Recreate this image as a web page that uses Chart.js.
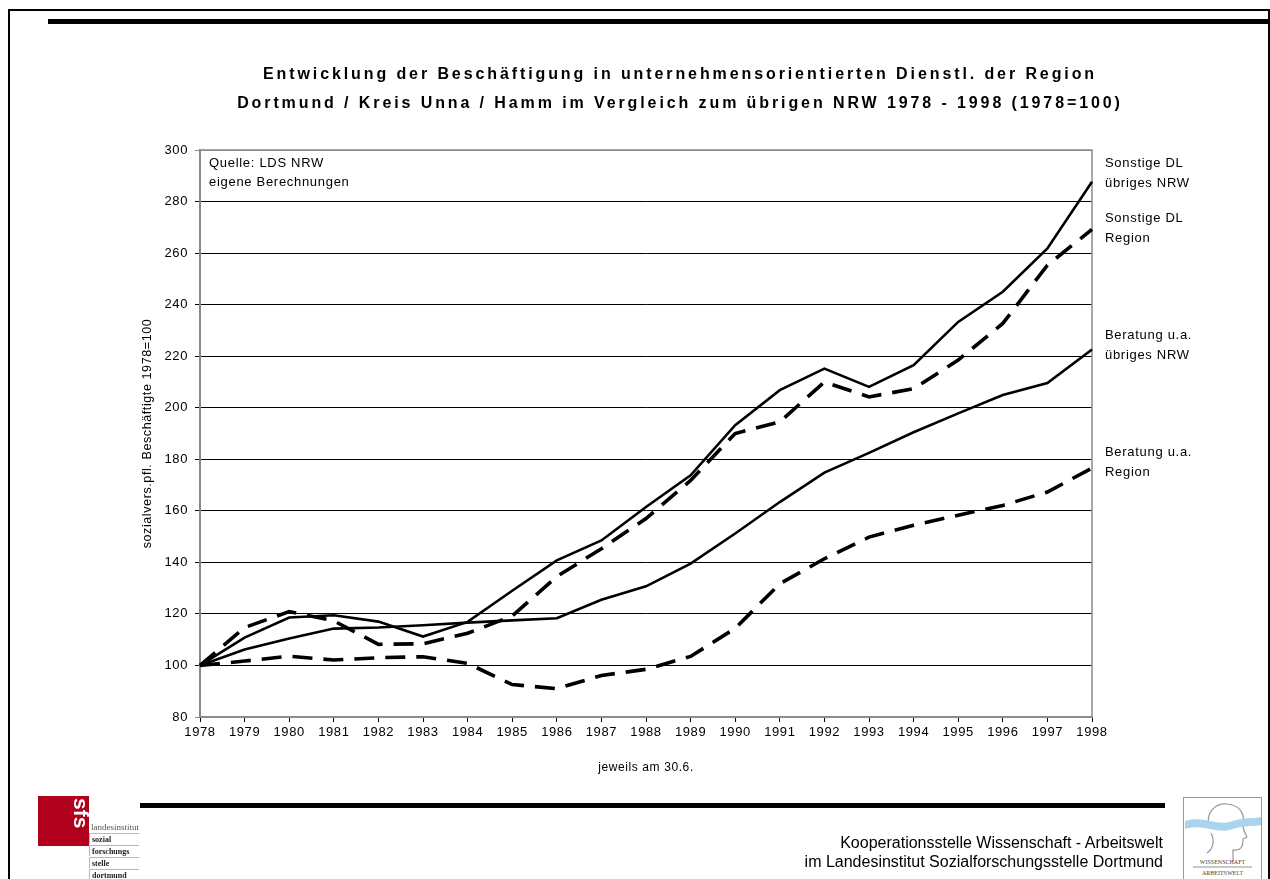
<!DOCTYPE html>
<html>
<head>
<meta charset="utf-8">
<script src="https://cdn.jsdelivr.net/npm/chart.js@4.4.1/dist/chart.umd.min.js"></script>
<style>
  body { margin: 0; background: #fff; font-family: "Liberation Sans", Arial, sans-serif; }
  #page { position: relative; width: 1270px; height: 879px; overflow: hidden; background: #fff; }
  #chart { position: absolute; left: 0; top: 0; }
  .abs { position: absolute; white-space: nowrap; }
  .title { left: 180px; width: 1000px; text-align: center; font-weight: bold; font-size: 16px; letter-spacing: 2.9px; line-height: 29px; }
  .lbl { font-size: 13px; letter-spacing: 0.7px; line-height: 20px; color: #000; }
  .foot { right: 107px; text-align: right; font-size: 16px; line-height: 19px; }
  .row { left: 89px; width: 50px; height: 11px; border-top: 1px solid #e5a3ab; border-left: 1px solid #e5a3ab;
         font: bold 8px "Liberation Serif", serif; line-height: 11px; padding-left: 2px; box-sizing: border-box; color: #222; }
</style>
</head>
<body>
<div id="page">
  <!-- frame -->
  <div class="abs" style="left:8px;top:9px;width:1258px;height:900px;border:2px solid #000;"></div>
  <div class="abs" style="left:48px;top:19px;width:1222px;height:5px;background:#000;"></div>

  <canvas id="chart" width="1270" height="879"></canvas>

  <div class="abs title" style="top:59px;">Entwicklung der Beschäftigung in unternehmensorientierten Dienstl. der Region<br>Dortmund / Kreis Unna / Hamm im Vergleich zum übrigen NRW 1978 - 1998 (1978=100)</div>

  <div class="abs lbl" style="left:209px;top:153px;line-height:19px;">Quelle: LDS NRW<br>eigene Berechnungen</div>

  <div class="abs lbl" style="left:1105px;top:153px;">Sonstige DL<br>übriges NRW</div>
  <div class="abs lbl" style="left:1105px;top:208px;">Sonstige DL<br>Region</div>
  <div class="abs lbl" style="left:1105px;top:325px;">Beratung u.a.<br>übriges NRW</div>
  <div class="abs lbl" style="left:1105px;top:442px;">Beratung u.a.<br>Region</div>

  <!-- footer -->
  <div class="abs" style="left:140px;top:803px;width:1025px;height:5px;background:#000;"></div>
  <div class="abs foot" style="top:833px;">Kooperationsstelle Wissenschaft - Arbeitswelt<br>im Landesinstitut Sozialforschungsstelle Dortmund</div>

  <!-- sfs logo -->
  <div class="abs" style="left:38px;top:796px;width:51px;height:50px;background:#b1001c;"></div>
  <div class="abs" style="left:72px;top:798px;color:#fff;font:bold 21px 'Liberation Sans',sans-serif;writing-mode:vertical-rl;line-height:18px;">sfs</div>
  <div class="abs" style="left:91px;top:822px;font:9px 'Liberation Serif',serif;color:#555;">landesinstitut</div>
  <div class="abs row" style="top:833px;">sozial</div>
  <div class="abs row" style="top:845px;">forschungs</div>
  <div class="abs row" style="top:857px;">stelle</div>
  <div class="abs row" style="top:869px;">dortmund</div>

  <!-- Wissenschaft Arbeitswelt logo -->
  <svg class="abs" style="left:1183px;top:797px;" width="80" height="84">
    <rect x="0.5" y="0.5" width="78" height="90" fill="#fff" stroke="#999"/>
    <path d="M26 30 C22 14 34 6 44 7 C56 8 62 16 60 26 C59 31 62 36 64 40 L60 42 C60 50 58 54 50 53 L50 64" fill="none" stroke="#9a9a9a" stroke-width="1.2"/>
    <path d="M28 36 C32 44 30 52 24 56" fill="none" stroke="#9a9a9a" stroke-width="1.2"/>
    <path d="M2 24 C20 18 34 30 50 24 C62 20 70 22 78 20 L78 28 C68 30 62 28 50 32 C34 38 20 26 2 32 Z" fill="#a9d4ec"/>
    <text x="39.5" y="67" font-size="6" text-anchor="middle" font-family="Liberation Serif" fill="#444">WISSENSCHAFT</text>
    <line x1="10" y1="70" x2="69" y2="70" stroke="#777" stroke-width="0.8"/>
    <text x="39.5" y="78" font-size="6" text-anchor="middle" font-family="Liberation Serif" fill="#444">ARBEITSWELT</text>
  </svg>
</div>

<script>
// ---------- data ----------
const years = ['1978', '1979', '1980', '1981', '1982', '1983', '1984', '1985', '1986', '1987', '1988',
  '1989', '1990', '1991', '1992', '1993', '1994', '1995', '1996', '1997', '1998'];

const sonstigeNRW    = [100, 110.8, 118.6, 119.5, 117, 111.2, 116.9, 129, 140.8, 148.5, 161.5,
  173.8, 193.2, 206.8, 215.2, 208.1, 216.5, 233.3, 245, 261.8, 287.7];
const sonstigeRegion = [100, 114.7, 120.9, 117.3, 108.2, 108.4, 112.5, 119.2, 134.5, 145.3, 157,
  171.8, 190, 194.5, 210, 204.2, 207.4, 218.5, 232.7, 255.3, 269.2];
const beratungNRW    = [100, 106.2, 110.5, 114.3, 114.7, 115.6, 116.6, 117.5, 118.3, 125.5, 130.7,
  139.5, 151.2, 163.4, 174.8, 182.5, 190.5, 197.8, 204.9, 209.6, 222.6];
const beratungRegion = [100, 101.7, 103.6, 102.1, 103, 103.4, 100.8, 92.6, 91, 96.1, 98.5,
  103.5, 114.4, 131.7, 141.4, 149.8, 154.4, 158.3, 162.1, 167.3, 176.6];

const yMin = 80, yMax = 300, yStep = 20;

// ---------- chart ----------
const FONT = '"Liberation Sans", Arial, sans-serif';
const solid  = { borderColor: '#000', borderWidth: 2.6, pointRadius: 0, tension: 0, fill: false };
const dashed = { borderColor: '#000', borderWidth: 3.6, borderDash: [20, 11], pointRadius: 0, tension: 0, fill: false };

// gray box around the plot area, below the lines
const plotBox = {
  id: 'plotBox',
  beforeDraw(chart) { chart.ctx.letterSpacing = '0.6px'; },
  beforeDatasetsDraw(chart) {
    const { ctx, chartArea: a } = chart;
    ctx.save();
    ctx.strokeStyle = '#8c8c8c';
    ctx.lineWidth = 1.5;
    ctx.strokeRect(a.left, a.top, a.right - a.left, a.bottom - a.top);
    ctx.restore();
  }
};

new Chart(document.getElementById('chart'), {
  type: 'line',
  data: {
    labels: years,
    datasets: [
      { label: 'Sonstige DL übriges NRW', data: sonstigeNRW, ...solid },
      { label: 'Sonstige DL Region', data: sonstigeRegion, ...dashed },
      { label: 'Beratung u.a. übriges NRW', data: beratungNRW, ...solid },
      { label: 'Beratung u.a. Region', data: beratungRegion, ...dashed }
    ]
  },
  options: {
    responsive: false,
    animation: false,
    devicePixelRatio: 1,
    layout: { padding: { left: 140, top: 150, right: 178, bottom: 100 } },
    plugins: { legend: { display: false }, title: { display: false }, tooltip: { enabled: false } },
    scales: {
      x: {
        offset: false,
        afterFit: (s) => { s.height = 62; },
        grid: { drawOnChartArea: false, drawTicks: true, tickLength: 5, color: '#000' },
        border: { display: true, color: '#8c8c8c', width: 1.5 },
        ticks: { font: { family: FONT, size: 13 }, color: '#000', maxRotation: 0, autoSkip: false, padding: 3 },
        title: { display: true, text: 'jeweils am 30.6.', font: { family: FONT, size: 12 }, color: '#000', padding: { top: 0, bottom: 4 } }
      },
      y: {
        min: yMin,
        max: yMax,
        afterFit: (s) => { s.width = 60; },
        grid: {
          color: (c) => (c.tick && (c.tick.value === yMin || c.tick.value === yMax)) ? '#8c8c8c' : '#000',
          lineWidth: 1, tickLength: 5
        },
        border: { display: true, color: '#808080', width: 2 },
        ticks: { stepSize: yStep, font: { family: FONT, size: 13 }, color: '#000', padding: 7 },
        title: { display: true, text: 'sozialvers.pfl. Beschäftigte 1978=100', font: { family: FONT, size: 12.5 }, color: '#000', padding: { top: 0, bottom: 0 } }
      }
    }
  },
  plugins: [plotBox]
});
</script>
</body>
</html>
